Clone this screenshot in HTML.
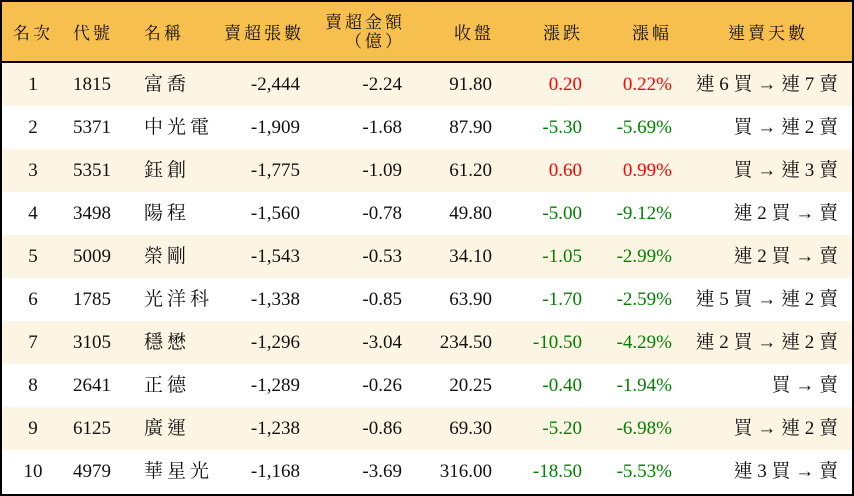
<!DOCTYPE html>
<html><head><meta charset="utf-8"><style>
html,body{margin:0;padding:0;background:#fff}
#w{position:absolute;left:0;top:0;width:850px;height:492px;border:2px solid #000;overflow:hidden;font-family:"Liberation Serif","Noto Serif CJK TC","Noto Serif CJK SC",serif;color:#111}
#h{position:absolute;left:0;top:0;width:850px;height:59px;background:#F7BF4E;border-bottom:2px solid #000}
.r{position:absolute;left:0;width:850px;height:43px}
.c{position:absolute;font-size:19px;line-height:43px;white-space:nowrap}
.hc{position:absolute;font-size:17px;line-height:19px;white-space:nowrap;letter-spacing:3px}
.red{color:#f00}.grn{color:#008000}
</style></head><body><div id="w">
<div id="h">
<div class="hc" style="left:11px;top:22px">名次</div>
<div class="hc" style="left:71px;top:22px">代號</div>
<div class="hc" style="left:142px;top:22px">名稱</div>
<div class="hc" style="left:222px;top:22px">賣超張數</div>
<div class="hc" style="left:323px;top:11px">賣超金額</div>
<div class="hc" style="left:343px;top:30px">（億）</div>
<div class="hc" style="left:452px;top:22px">收盤</div>
<div class="hc" style="left:541px;top:22px">漲跌</div>
<div class="hc" style="left:630px;top:22px">漲幅</div>
<div class="hc" style="left:726px;top:22px">連賣天數</div>
</div>
<div id="rows"></div>
</div>
<script>
var d=[["1","1815","富喬","-2,444","-2.24","91.80","0.20","0.22%","連 6 買 → 連 7 賣"],
["2","5371","中光電","-1,909","-1.68","87.90","-5.30","-5.69%","買 → 連 2 賣"],
["3","5351","鈺創","-1,775","-1.09","61.20","0.60","0.99%","買 → 連 3 賣"],
["4","3498","陽程","-1,560","-0.78","49.80","-5.00","-9.12%","連 2 買 → 賣"],
["5","5009","榮剛","-1,543","-0.53","34.10","-1.05","-2.99%","連 2 買 → 賣"],
["6","1785","光洋科","-1,338","-0.85","63.90","-1.70","-2.59%","連 5 買 → 連 2 賣"],
["7","3105","穩懋","-1,296","-3.04","234.50","-10.50","-4.29%","連 2 買 → 連 2 賣"],
["8","2641","正德","-1,289","-0.26","20.25","-0.40","-1.94%","買 → 賣"],
["9","6125","廣運","-1,238","-0.86","69.30","-5.20","-6.98%","買 → 連 2 賣"],
["10","4979","華星光","-1,168","-3.69","316.00","-18.50","-5.53%","連 3 買 → 賣"]];
var h="";
d.forEach(function(r,i){var cl=r[6][0]=="-"?"grn":"red";
h+='<div class="r" style="top:'+(61+i*43)+'px;background:'+(i%2?'#fff':'#FDF5E3')+'">'+
'<div class="c" style="left:0;width:62px;text-align:center">'+r[0]+'</div>'+
'<div class="c" style="left:71px">'+r[1]+'</div>'+
'<div class="c" style="left:142px;letter-spacing:4px">'+r[2]+'</div>'+
'<div class="c" style="right:552px">'+r[3]+'</div>'+
'<div class="c" style="right:450px">'+r[4]+'</div>'+
'<div class="c" style="right:360px">'+r[5]+'</div>'+
'<div class="c '+cl+'" style="right:270px">'+r[6]+'</div>'+
'<div class="c '+cl+'" style="right:180px">'+r[7]+'</div>'+
'<div class="c" style="right:14px">'+r[8]+'</div></div>';});
document.getElementById("rows").innerHTML=h;
</script>
</body></html>
